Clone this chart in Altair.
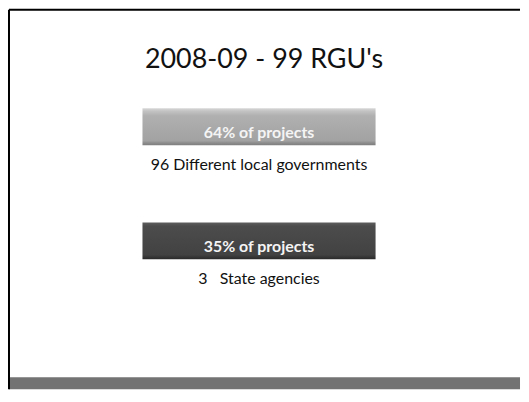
import altair as alt
import pandas as pd

# ---- data ----
slide_title = ["2008-09 - 99 RGU's"]
groups = ["Local governments", "State agencies"]
share_labels = ["64% of projects", "35% of projects"]
count_labels = ["96 Different local governments", "3\u00a0\u00a0 State agencies"]
shares = [64, 35]
counts = [96, 3]
unit = ["projects", "projects"]
footer = ["footer"]
frame_sides = ["left", "top"]

df = pd.DataFrame({
    "group": groups,
    "share_label": share_labels,
    "count_label": count_labels,
    "share": shares,
    "count": counts,
    "unit": unit,
})

W, H = 513, 381
FONT = "Lato"

xs = alt.Scale(domain=["projects"], paddingInner=0, paddingOuter=0, range=[134, 368], round=False)
ys = alt.Scale(domain=groups, paddingInner=0.677, paddingOuter=0, range=[99, 250.5], round=False)

X = alt.X("unit:N", scale=xs, axis=None)
Y = alt.Y("group:N", scale=ys, axis=None)

gradients = {
    groups[0]: alt.Gradient(
        gradient="linear", x1=0, x2=0, y1=0, y2=1,
        stops=[
            alt.GradientStop(color="#d6d6d6", offset=0),
            alt.GradientStop(color="#c2c2c2", offset=0.08),
            alt.GradientStop(color="#b0b0b0", offset=0.2),
            alt.GradientStop(color="#a2a2a2", offset=0.88),
            alt.GradientStop(color="#8c8c8c", offset=0.94),
            alt.GradientStop(color="#7e7e7e", offset=1),
        ],
    ),
    groups[1]: alt.Gradient(
        gradient="linear", x1=0, x2=0, y1=0, y2=1,
        stops=[
            alt.GradientStop(color="#5e5e5e", offset=0),
            alt.GradientStop(color="#4c4c4c", offset=0.1),
            alt.GradientStop(color="#424242", offset=0.88),
            alt.GradientStop(color="#333333", offset=0.95),
            alt.GradientStop(color="#2a2a2a", offset=1),
        ],
    ),
}

base = alt.Chart(df)

footer_band = alt.Chart(pd.DataFrame({"part": footer})).mark_rect(color="#737373").encode(
    x=alt.value(0), x2=alt.value("width"), y=alt.value(369), y2=alt.value("height")
)

left_edge = alt.Chart(pd.DataFrame({"side": frame_sides[:1]})).mark_rule(
    color="black", strokeWidth=2
).encode(x=alt.value(0), y=alt.value(0), y2=alt.value("height"))

top_edge = alt.Chart(pd.DataFrame({"side": frame_sides[1:]})).mark_rule(
    color="black", strokeWidth=2
).encode(y=alt.value(0), x=alt.value(0), x2=alt.value("width"))

title = alt.Chart(pd.DataFrame({"title": slide_title})).mark_text(
    font=FONT, fontSize=27, color="#111111", align="center", baseline="alphabetic"
).encode(x=alt.value(256), y=alt.value(58), text="title:N")

bars = [
    base.transform_filter(alt.datum.group == g).mark_rect(fill=gradients[g]).encode(x=X, y=Y)
    for g in groups
]

share_text = base.mark_text(
    font=FONT, fontSize=16, fontWeight="bold", color="#f4f4f4",
    align="center", baseline="alphabetic", dy=11,
).encode(x=X, y=Y, text="share_label:N")

count_text = base.mark_text(
    font=FONT, fontSize=16, color="#111111",
    align="center", baseline="alphabetic", dy=43,
).encode(x=X, y=Y, text="count_label:N")

chart = alt.layer(footer_band, title, *bars, share_text, count_text, left_edge, top_edge).properties(
    width=W, height=H,
    padding=0,
    background="white",
).configure_view(stroke=None, fill="white")

chart.save("out.html", embed_options={"renderer": "svg", "actions": False})
